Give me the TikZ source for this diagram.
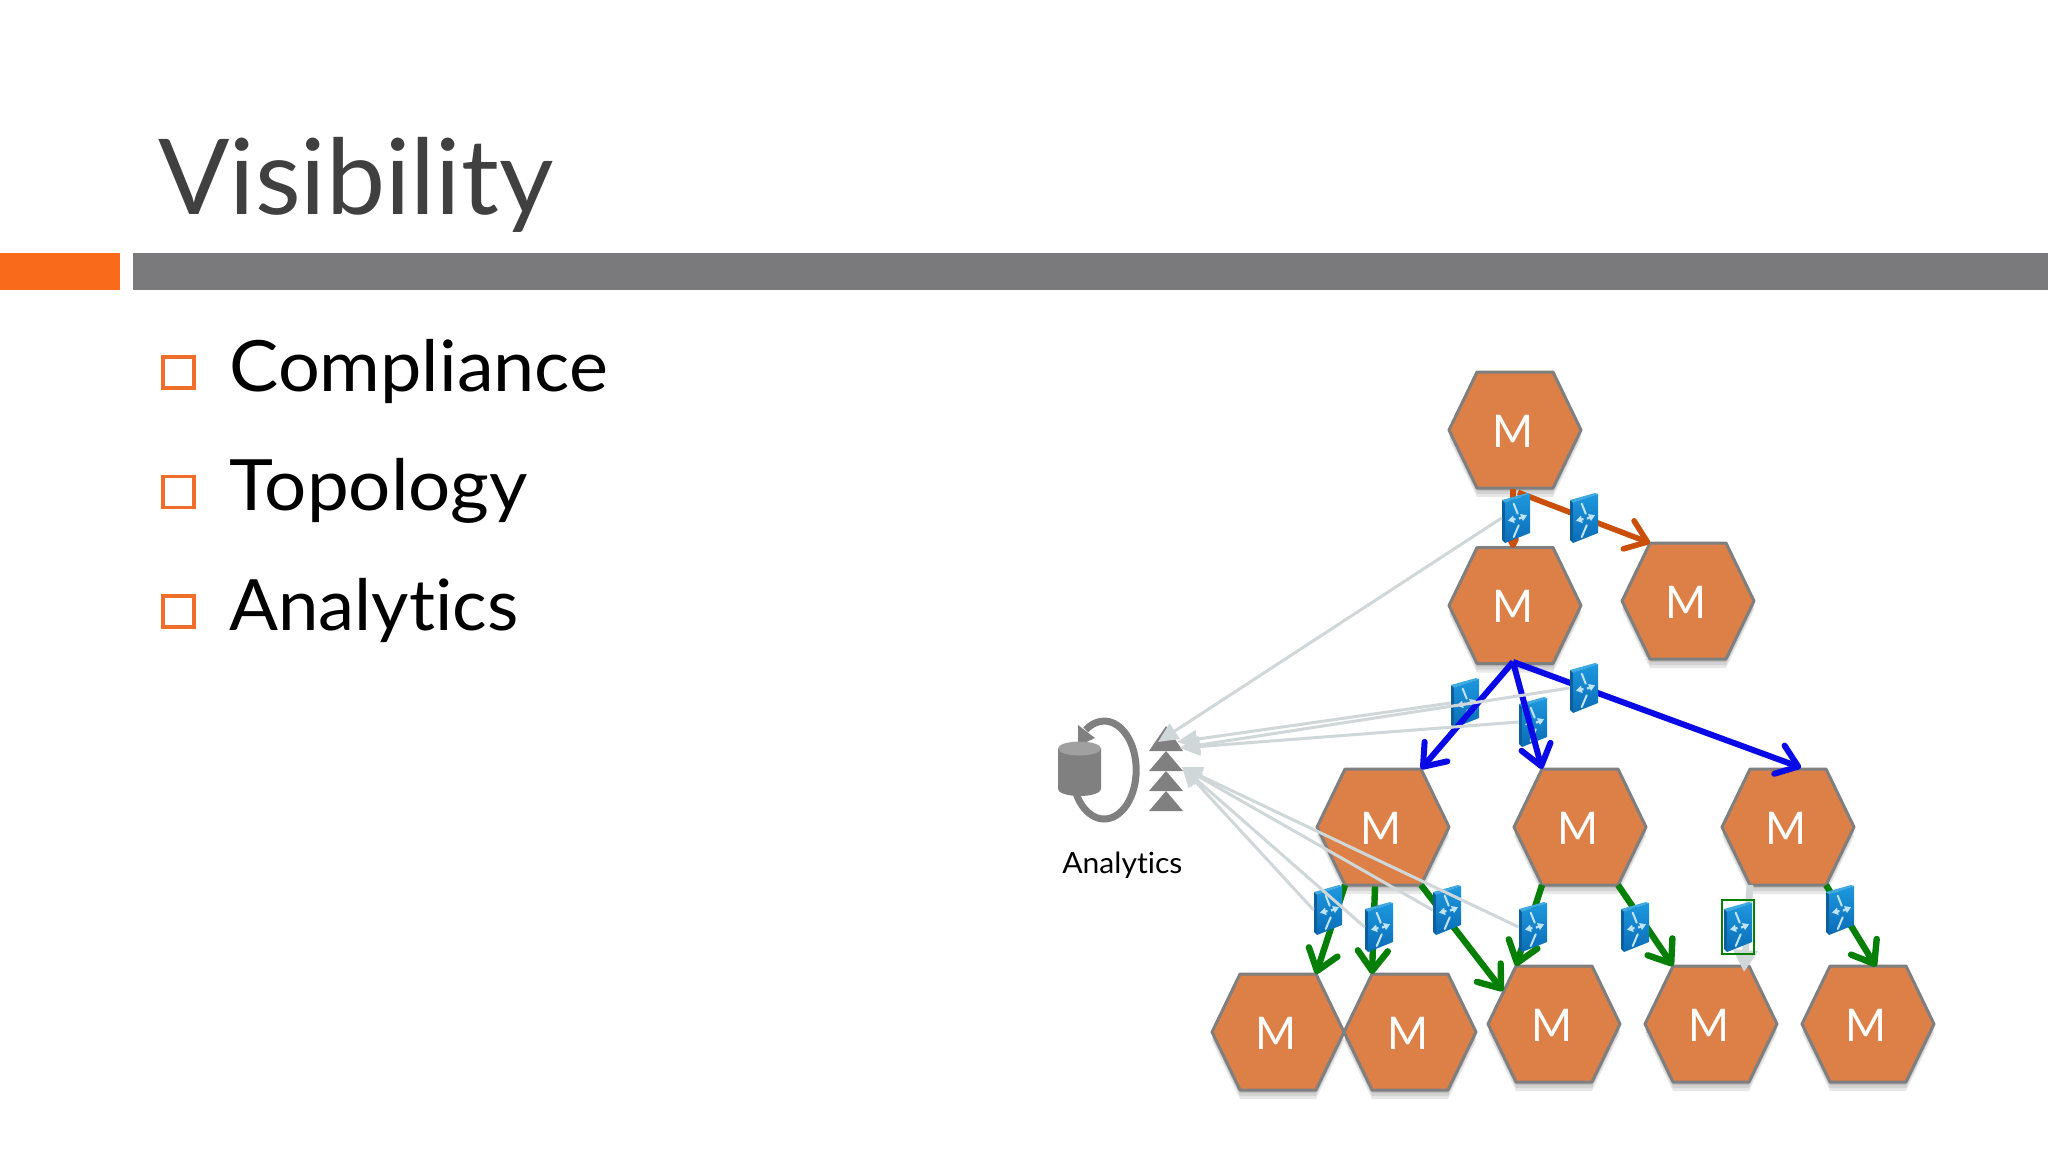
\documentclass[tikz,border=0pt]{standalone}
\usepackage{fontspec}
\usepackage{graphicx}
\setmainfont[Ligatures=NoCommon]{Lato}
\usetikzlibrary{arrows.meta,calc}
\definecolor{hexfill}{HTML}{DD8047}
\definecolor{hexline}{HTML}{7F7F80}
\definecolor{barorange}{HTML}{F96A1B}
\definecolor{bargrey}{HTML}{7A7A7D}
\definecolor{titlegrey}{HTML}{404040}
\definecolor{bulletorange}{HTML}{EE6E2A}
\definecolor{greyarrow}{HTML}{D0D7D9}
\definecolor{iconsgrey}{HTML}{808080}
\definecolor{edgeorange}{HTML}{C94F0A}
\definecolor{edgeblue}{HTML}{0A0AE6}
\definecolor{edgegreen}{HTML}{067F06}
\definecolor{swtop}{HTML}{1E98DE}
\definecolor{swbot}{HTML}{0A6CB6}
\definecolor{swside}{HTML}{0B5F9E}
\definecolor{swlid}{HTML}{3FA9E0}
\definecolor{swglyph}{HTML}{BFE3F8}
\newsavebox\fitbox
\newcommand\fitw[2]{\sbox\fitbox{#2}\pgfmathsetmacro\fitr{#1/\wd\fitbox}\scalebox{\fitr}[1]{\usebox\fitbox}}
\tikzset{
  hexlabel/.style={rectangle,minimum width=66pt,minimum height=58pt,inner sep=0pt,text=white,font=\fontsize{22.5}{24}\selectfont},
  hexbody/.style={fill=hexfill,draw=hexline,line width=1.5pt,line join=round},
  swbox/.style={rectangle,minimum width=14pt,minimum height=25pt,inner sep=0pt},
  flow/.style={line width=3pt,-{Straight Barb[length=10pt,width=15pt,round]}},
  orangeflow/.style={flow,draw=edgeorange,line width=2.8pt},
  blueflow/.style={flow,draw=edgeblue},
  greenflow/.style={flow,draw=edgegreen,line width=3.2pt},
  greyflow/.style={draw=greyarrow,line width=1.5pt,-{Triangle[length=10pt,width=9pt,fill=greyarrow]}},
  bigtext/.style={anchor=base west,inner sep=0pt,font=\fontsize{35.4}{40}\selectfont,text=black},
  bulletbox/.style={rectangle,draw=bulletorange,line width=1.8pt,minimum width=15.5pt,minimum height=15.5pt,inner sep=0pt},
  switchpic/.pic={
    \fill[swside] (-14,-18) -- (-11,-15.5) -- (-11,25) -- (-14,22) -- cycle;
    \fill[swlid] (-14,-18) -- (11,-25) -- (14,-24) -- (-11,-15.5) -- cycle;
    \shade[top color=swtop,bottom color=swbot] (-11,-15.5) -- (14,-24) -- (14,15) -- (-11,25) -- cycle;
    \draw[swglyph,line width=1pt,line cap=round] (-2.3,-14.3) -- (1.7,-4.3) (-2.3,19) -- (2.7,7.3);
    \draw[swglyph,line width=1.1pt,-{Triangle[length=3pt,width=3.6pt]}] (-0.5,1) -- (-8,2.6);
    \draw[swglyph,line width=1.1pt,-{Triangle[length=3pt,width=3.6pt]}] (3,0.6) -- (11,-2.8);
  }
}
\newcommand\hexn[3]{%
  \begin{scope}[shift={(#2,#3)}]
    \foreach \o in {9,6,3}{\fill[black,opacity=0.09] (-66,\o) -- (-38,-58+\o) -- (38,-58+\o) -- (66,\o) -- (38,58+\o) -- (-38,58+\o) -- cycle;}
    \path[hexbody] (-66,0) -- (-38,-58) -- (38,-58) -- (66,0) -- (38,58) -- (-38,58) -- cycle;
    \coordinate (#1tl) at (-38,-58);
    \coordinate (#1tr) at (38,-58);
    \coordinate (#1bl) at (-38,58);
    \coordinate (#1br) at (38,58);
    \coordinate (#1ul) at (-51,-33);
    \node[hexlabel] (#1) at (-2,1) {\fitw{20.5}{M}};
  \end{scope}}
\newcommand\swn[3]{\path (#2,#3) pic{switchpic}; \node[swbox] (#1) at (#2,#3) {};}
\begin{document}
\begin{tikzpicture}[x=0.5pt,y=-0.5pt]
\useasboundingbox (0,0) rectangle (2048,1152);
\fill[white] (0,0) rectangle (2048,1152);
% header
\node[anchor=base west,inner sep=0pt,text=titlegrey,font=\fontsize{52.4}{60}\selectfont] (title) at (158,214) {\fitw{197.5}{Visibility}};
\fill[barorange] (0,253) rectangle (120,290);
\fill[bargrey] (133,253) rectangle (2048,290);
% bullets
\node[bulletbox] (b1) at (178.5,372.5) {};
\node[bulletbox] (b2) at (178.5,492) {};
\node[bulletbox] (b3) at (178.5,611.5) {};
\node[bigtext] (t1) at (229,391) {\fitw{189.5}{Compliance}};
\node[bigtext] (t2) at (229.5,510) {\fitw{149}{Topology}};
\node[bigtext] (t3) at (229,630) {\fitw{144.5}{Analytics}};
% hexagons
\hexn{HA}{1515}{430}
\hexn{HB}{1515}{605.5}
\hexn{HC}{1688}{601}
\hexn{HD}{1383}{827}
\hexn{HE}{1580}{827}
\hexn{HF}{1788}{827}
\hexn{HG}{1278}{1032}
\hexn{HH}{1410}{1032}
\hexn{HI}{1554}{1024}
\hexn{HJ}{1711}{1024}
\hexn{HK}{1868}{1024}
% analytics icon
\draw[iconsgrey,line width=3.5pt] (1075.9,793) arc[start angle=152,end angle=-125,x radius=32,y radius=49];
\fill[iconsgrey] (1078,725) -- (1095,738) -- (1078,746) -- cycle;
\fill[iconsgrey] (1058,748) -- (1058,789) arc[start angle=180,end angle=0,x radius=21.5,y radius=7] -- (1101,748) -- cycle;
\fill[iconsgrey!75!white] (1079.5,748.5) ellipse[x radius=21.5,y radius=7];
\fill[iconsgrey] (1149,751) -- (1166,726) -- (1183,751) -- cycle;
\fill[iconsgrey] (1149,771) -- (1166,751) -- (1183,771) -- cycle;
\fill[iconsgrey] (1149,791) -- (1166,771) -- (1183,791) -- cycle;
\fill[iconsgrey] (1149,811) -- (1166,791) -- (1183,811) -- cycle;
\node[anchor=base west,inner sep=0pt,text=black,font=\fontsize{14.6}{16}\selectfont] (lab) at (1062,873) {\fitw{60}{Analytics}};
\coordinate (gA) at (1158,742);
\coordinate (gB) at (1177,742);
\coordinate (gC) at (1180,748);
\coordinate (gD) at (1182,767);
% green and orange flows
\draw[greenflow] (HDbl) -- (HGtr);
\draw[greenflow] ($(HD.south)+(-6,0)$) -- (HHtl);
\draw[greenflow] (HDbr) -- (HIul);
\draw[greenflow] (HEbl) -- (HItl);
\draw[greenflow] (HEbr) -- (HJtl);
\draw[greenflow] (HFbr) -- ($(HK.north)+(10,0)$);
\draw[edgeorange,line width=2.8pt,-{Straight Barb[length=3pt,width=3pt,round]}] (HA.south) -- (HB.north);
\draw[orangeflow] ($(HA.south)+(5,3)$) -- (HCtl);
% switches under the blue flows
\swn{SC}{1465}{703}
\swn{SD}{1533}{722}
\draw[blueflow] ($(HB.south)+(0,-3)$) -- (HDtr);
\draw[blueflow] ($(HB.south)+(0,-3)$) -- (HEtl);
\draw[blueflow] ($(HB.south)+(0,-3)$) -- ($(HF.north)+(15,-2)$);
% vertical grey flow, behind its switch
\draw[draw=greyarrow,line width=3.4pt,-{Triangle[length=11pt,width=12pt,fill=greyarrow]}] (HFbl) -- (1744,972);
% other switches
\swn{SA}{1516}{518}
\swn{SB}{1584}{518}
\swn{SE}{1584}{688}
\swn{SF}{1328}{910}
\swn{SG}{1379}{927}
\swn{SH}{1447}{910}
\swn{SI}{1533}{927}
\swn{SJ}{1635}{927}
\swn{SK}{1738}{927}
\swn{SL}{1840}{910}
\node[rectangle,draw=edgegreen,line width=1.3pt,minimum width=16pt,minimum height=27pt,inner sep=0pt] (mark) at (1738,927) {};
% grey flows to the analytics
\draw[greyflow] (SA.west) -- (gA);
\draw[greyflow] (SC.west) -- (gB);
\draw[greyflow] (SE.west) -- (gC);
\draw[greyflow] (SD.west) -- (gC);
\draw[greyflow] (SF.west) -- (gD);
\draw[greyflow] (SG.west) -- (gD);
\draw[greyflow] (SH.west) -- (gD);
\draw[greyflow] (SI.west) -- (gD);
\end{tikzpicture}
\end{document}
